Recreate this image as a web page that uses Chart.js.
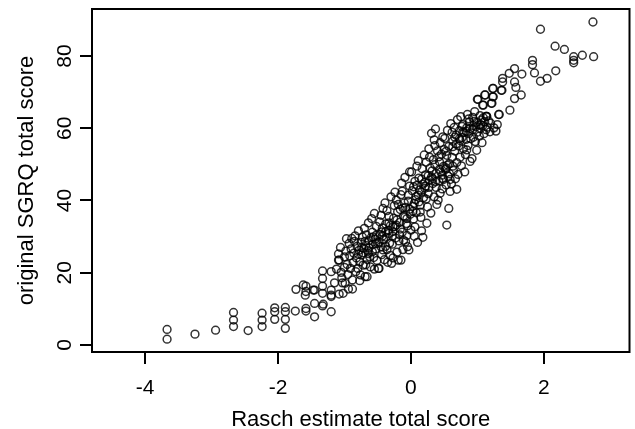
<!DOCTYPE html>
<html lang="en">
<head>
<meta charset="UTF-8">
<title>Rasch estimate vs SGRQ</title>
<script src="https://cdn.jsdelivr.net/npm/chart.js@4.4.1/dist/chart.umd.min.js"></script>
<style>
  html, body { margin: 0; padding: 0; background: #fff; }
  .wrap { width: 635px; height: 429px; }
</style>
</head>
<body>
<div class="wrap"><canvas id="grafico"></canvas></div>
<script>
    // tick labels
    const xTicks = [-4, -2, 0, 2];
    const yTicks = [0, 20, 40, 60, 80];

    // [rasch estimate, original SGRQ]
    const lowerTail = [
        [-3.67, 4.3], [-3.67, 1.6], [-3.25, 3.0], [-2.94, 4.1],
        [-2.67, 9.0], [-2.67, 6.9], [-2.67, 5.1], [-2.45, 4.0],
        [-2.24, 8.8], [-2.24, 6.9], [-2.24, 5.1],
        [-2.05, 10.3], [-2.05, 9.2], [-2.05, 7.1],
        [-1.89, 10.4], [-1.89, 9.2], [-1.89, 7.1], [-1.89, 4.6],
        [-1.74, 9.4], [-1.58, 10.1], [-1.58, 9.4], [-1.45, 7.8],
        [-1.73, 15.4], [-1.58, 16.3], [-1.58, 14.8], [-1.45, 15.2],
        [-1.33, 16.3], [-1.33, 14.3], [-1.20, 15.2], [-1.20, 13.4],
        [-1.08, 14.1], [-1.45, 11.5], [-1.33, 10.8], [-1.20, 9.2],
        [-1.33, 18.4], [-1.20, 20.3], [-1.33, 20.5], [-1.09, 23.5],
        [-1.32, 11.3], [-1.20, 13.8], [-1.62, 16.6], [-1.47, 15.2],
        [-1.59, 13.8], [-1.15, 17.2], [-1.12, 21.0]
    ];

    const mainBand = [
        [-1.08, 23.5], [-1.05, 20.1], [-1.03, 17.2], [-1.00, 24.4], [-1.02, 14.3], [-1.06, 27.0], [-1.00, 21.5], [-1.04, 18.6], [-1.09, 25.2],
        [-0.98, 26.0], [-0.96, 22.3], [-0.95, 19.5], [-0.93, 28.1], [-0.92, 24.7], [-0.99, 17.1], [-0.94, 15.5], [-0.91, 21.2], [-0.97, 29.4], [-0.90, 26.6],
        [-0.88, 15.5], [-0.88, 18.0], [-0.87, 22.8], [-0.86, 25.4], [-0.85, 28.7], [-0.84, 30.2], [-0.83, 20.3], [-0.82, 24.1], [-0.81, 27.3], [-0.80, 21.2], [-0.89, 29.5],
        [-0.79, 31.6], [-0.78, 26.2], [-0.77, 23.0], [-0.76, 19.4], [-0.75, 28.4], [-0.74, 24.9], [-0.73, 29.9], [-0.72, 22.1], [-0.71, 26.8], [-0.70, 32.3], [-0.77, 17.8], [-0.72, 25.5],
        [-0.69, 18.9], [-0.68, 27.6], [-0.67, 30.5], [-0.66, 23.7], [-0.66, 18.9], [-0.65, 26.1], [-0.64, 33.8], [-0.63, 28.9], [-0.62, 24.4], [-0.61, 21.6], [-0.60, 29.7], [-0.64, 25.3], [-0.68, 22.2],
        [-0.59, 35.0], [-0.58, 31.2], [-0.57, 27.9], [-0.56, 24.2], [-0.55, 21.0], [-0.54, 29.3], [-0.53, 26.6], [-0.52, 32.8], [-0.51, 23.4], [-0.50, 28.1], [-0.55, 36.4], [-0.58, 25.8], [-0.52, 30.4],
        [-0.49, 21.2], [-0.48, 21.2], [-0.47, 34.1], [-0.46, 30.6], [-0.45, 27.2], [-0.44, 25.0], [-0.43, 32.4], [-0.42, 37.8], [-0.41, 29.1], [-0.40, 23.6], [-0.45, 35.9], [-0.48, 28.5], [-0.42, 26.3], [-0.44, 31.3],
        [-0.39, 39.3], [-0.38, 33.5], [-0.37, 29.8], [-0.36, 26.4], [-0.35, 22.9], [-0.34, 31.7], [-0.33, 35.6], [-0.32, 28.2], [-0.31, 24.8], [-0.30, 41.0], [-0.36, 37.2], [-0.33, 30.9], [-0.38, 27.3], [-0.31, 33.0],
        [-0.29, 22.6], [-0.28, 27.9], [-0.27, 31.4], [-0.26, 35.1], [-0.25, 38.6], [-0.24, 42.3], [-0.23, 29.6], [-0.22, 33.2], [-0.21, 25.7], [-0.20, 36.9], [-0.27, 24.1], [-0.24, 32.8], [-0.22, 40.1], [-0.28, 30.2],
        [-0.19, 23.5], [-0.18, 28.8], [-0.17, 33.9], [-0.16, 37.5], [-0.15, 41.6], [-0.14, 44.8], [-0.13, 31.2], [-0.12, 26.4], [-0.11, 35.7], [-0.10, 39.3], [-0.15, 23.5], [-0.17, 30.5], [-0.13, 42.6], [-0.11, 29.0],
        [-0.09, 46.4], [-0.08, 38.1], [-0.07, 33.6], [-0.06, 30.3], [-0.05, 27.2], [-0.04, 41.5], [-0.03, 26.3], [-0.02, 44.0], [-0.01, 36.2], [0.00, 31.8], [-0.06, 35.0], [-0.04, 39.8], [-0.08, 28.6], [-0.02, 47.9],
        [0.01, 47.9], [0.02, 42.7], [0.03, 38.4], [0.04, 34.9], [0.05, 30.1], [0.06, 45.3], [0.07, 40.2], [0.08, 36.6], [0.09, 49.5], [0.10, 28.4], [0.04, 43.8], [0.06, 32.7], [0.08, 41.1], [0.03, 37.0],
        [0.11, 51.0], [0.12, 46.2], [0.13, 42.9], [0.14, 38.7], [0.15, 35.3], [0.16, 31.6], [0.17, 48.8], [0.18, 44.5], [0.19, 40.8], [0.20, 52.6], [0.14, 36.8], [0.16, 45.9], [0.12, 39.6], [0.18, 29.8],
        [0.21, 43.4], [0.22, 47.1], [0.23, 50.6], [0.24, 33.7], [0.25, 38.2], [0.26, 41.9], [0.27, 54.3], [0.28, 45.6], [0.29, 49.0], [0.30, 36.5], [0.23, 40.4], [0.26, 46.8], [0.28, 52.0], [0.22, 44.0],
        [0.31, 58.6], [0.37, 59.8], [0.32, 48.2], [0.33, 44.7], [0.34, 51.3], [0.35, 41.0], [0.36, 55.2], [0.38, 47.5], [0.39, 38.9], [0.40, 53.7], [0.33, 46.0], [0.36, 49.9], [0.38, 43.6], [0.35, 56.8],
        [0.41, 40.1], [0.42, 45.4], [0.43, 50.7], [0.44, 56.0], [0.45, 47.9], [0.46, 52.8], [0.47, 43.2], [0.48, 57.6], [0.49, 49.4], [0.50, 54.1], [0.44, 42.0], [0.47, 47.0], [0.42, 52.1], [0.49, 45.8],
        [0.51, 57.2], [0.52, 48.6], [0.53, 44.3], [0.54, 52.5], [0.55, 59.4], [0.56, 46.7], [0.57, 37.8], [0.57, 55.0], [0.58, 50.2], [0.59, 42.5], [0.60, 61.3], [0.53, 53.6], [0.58, 47.4], [0.55, 49.8], [0.54, 33.2],
        [0.61, 44.6], [0.62, 51.9], [0.63, 56.4], [0.64, 48.3], [0.65, 60.2], [0.66, 53.7], [0.67, 46.0], [0.68, 58.1], [0.69, 50.5], [0.70, 62.4], [0.63, 54.9], [0.66, 57.5], [0.69, 43.1],
        [0.71, 47.2], [0.72, 55.1], [0.73, 59.3], [0.74, 52.0], [0.75, 63.2], [0.76, 49.6], [0.77, 57.4], [0.78, 61.0], [0.79, 54.3], [0.80, 58.8], [0.74, 56.6], [0.77, 60.5],
        [0.81, 47.9], [0.82, 52.7], [0.83, 56.9], [0.84, 60.1], [0.85, 63.8], [0.86, 55.2], [0.87, 58.5], [0.88, 61.7], [0.89, 50.8], [0.90, 57.1], [0.84, 54.0], [0.87, 62.6],
        [0.92, 51.6], [0.93, 59.6], [0.94, 57.5], [0.95, 61.9], [0.96, 64.6], [0.97, 56.3], [0.98, 60.4], [0.99, 53.9], [1.00, 58.9], [0.93, 63.0],
        [1.01, 68.0], [1.02, 60.9], [1.03, 57.8], [1.04, 63.5], [1.05, 59.9], [1.06, 62.3], [1.07, 56.0], [1.08, 60.7], [1.09, 66.4], [1.10, 58.5],
        [1.11, 61.8], [1.12, 69.2], [1.13, 59.6], [1.14, 63.3], [1.15, 60.3], [1.17, 62.0], [1.19, 59.0], [1.20, 61.4],
        [1.22, 66.9], [1.24, 71.0], [1.24, 68.7], [1.25, 60.1], [1.28, 59.2], [1.30, 61.0], [1.33, 63.8], [1.37, 70.5], [1.14, 63.3], [1.49, 65.0]
    ];

    // extra marks in the darkest parts of the band
    const denseCore = [
        [-0.43, 30.1], [-0.38, 31.4], [-0.33, 33.8], [-0.27, 32.7], [-0.21, 34.6], [-0.16, 32.1], [-0.09, 35.4], [-0.05, 33.0],
        [-0.79, 25.1], [-0.74, 27.0], [-0.69, 28.7], [-0.63, 26.9], [-0.57, 29.9], [-0.53, 28.0],
        [0.16, 42.3], [0.21, 45.0], [0.27, 43.6], [0.31, 46.5], [0.37, 45.2], [0.43, 48.6], [0.48, 46.1], [0.53, 49.0], [0.59, 45.8], [0.63, 49.5],
        [0.62, 58.9], [0.68, 55.6], [0.73, 57.1], [0.78, 58.9], [0.83, 59.2], [0.89, 59.9], [0.94, 60.7], [0.99, 61.6], [1.05, 61.0], [1.09, 62.9],
        [-0.02, 37.6], [0.05, 39.2], [0.11, 41.5], [-0.12, 37.9], [-0.19, 38.9], [0.09, 44.2]
    ];

    const upperTail = [
        [2.74, 89.4], [1.95, 87.4], [2.17, 82.7], [2.31, 81.8], [2.45, 79.8],
        [2.45, 78.8], [2.45, 78.1], [2.58, 80.2], [2.75, 79.8],
        [1.83, 78.8], [1.83, 77.6], [1.86, 75.3], [1.95, 73.0], [2.05, 73.8], [2.18, 75.9],
        [1.56, 76.5], [1.67, 75.0], [1.48, 75.2], [1.38, 73.8], [1.38, 72.8],
        [1.56, 72.8], [1.58, 71.3], [1.23, 71.0], [1.36, 70.5], [1.66, 69.2],
        [1.56, 68.2], [1.11, 69.2], [1.23, 68.7], [1.00, 68.0], [1.08, 66.4],
        [1.21, 66.9], [1.32, 63.8], [1.13, 63.3]
    ];

    const fonte = 'Liberation Sans, Arial, Helvetica, sans-serif';

    // box round the plot region, and y tick labels turned like R draws them
    const caixa = {
        id: 'caixa',
        afterDraw(chart) {
            const { ctx, chartArea: a } = chart;
            const eixoY = chart.scales.y;
            ctx.save();
            ctx.strokeStyle = '#000';
            ctx.lineWidth = 2;
            ctx.strokeRect(a.left, a.top, a.right - a.left, a.bottom - a.top);

            ctx.fillStyle = '#000';
            ctx.font = '21px ' + fonte;
            ctx.textAlign = 'center';
            ctx.textBaseline = 'middle';
            yTicks.forEach(v => {
                ctx.save();
                ctx.translate(65.5, eixoY.getPixelForValue(v));
                ctx.rotate(-Math.PI / 2);
                ctx.fillText(String(v), 0, 0);
                ctx.restore();
            });
            ctx.restore();
        }
    };

    const pontos = lowerTail.concat(mainBand, denseCore, upperTail).map(p => ({ x: p[0], y: p[1] }));

    const marcas = { drawOnChartArea: false, drawTicks: true, tickLength: 12, color: '#000', lineWidth: 2 };

    const config = {
        type: 'scatter',
        data: {
            datasets: [{
                data: pontos,
                pointStyle: 'circle',
                pointRadius: 3.9,
                borderWidth: 1.5,
                borderColor: 'rgba(0,0,0,0.8)',
                backgroundColor: 'rgba(0,0,0,0)'
            }]
        },
        options: {
            responsive: true,
            maintainAspectRatio: false,
            animation: false,
            layout: { padding: { top: 9, right: 2, left: 0, bottom: 0 } },
            plugins: { legend: { display: false }, tooltip: { enabled: false } },
            scales: {
                x: {
                    type: 'linear',
                    min: -4.8,
                    max: 3.29,
                    afterBuildTicks: s => { s.ticks = xTicks.map(v => ({ value: v })); },
                    afterFit: s => { s.height = 77; },
                    grid: marcas,
                    border: { display: false },
                    ticks: { color: '#000', font: { family: fonte, size: 21 }, padding: 12, maxRotation: 0, autoSkip: false },
                    title: { display: true, text: 'Rasch estimate total score', color: '#000',
                             font: { family: fonte, size: 22, lineHeight: 0.8 }, padding: 0 }
                },
                y: {
                    type: 'linear',
                    min: -1.94,
                    max: 93,
                    afterBuildTicks: s => { s.ticks = yTicks.map(v => ({ value: v })); },
                    afterFit: s => { s.width = 92; },
                    grid: marcas,
                    border: { display: false },
                    ticks: { display: false },
                    title: { display: true, text: 'original SGRQ total score', color: '#000',
                             font: { family: fonte, size: 22, lineHeight: 0.8 }, padding: { top: 18, bottom: 0 } }
                }
            }
        },
        plugins: [caixa]
    };

    const grafico = new Chart(document.getElementById('grafico'), config);
</script>
</body>
</html>
